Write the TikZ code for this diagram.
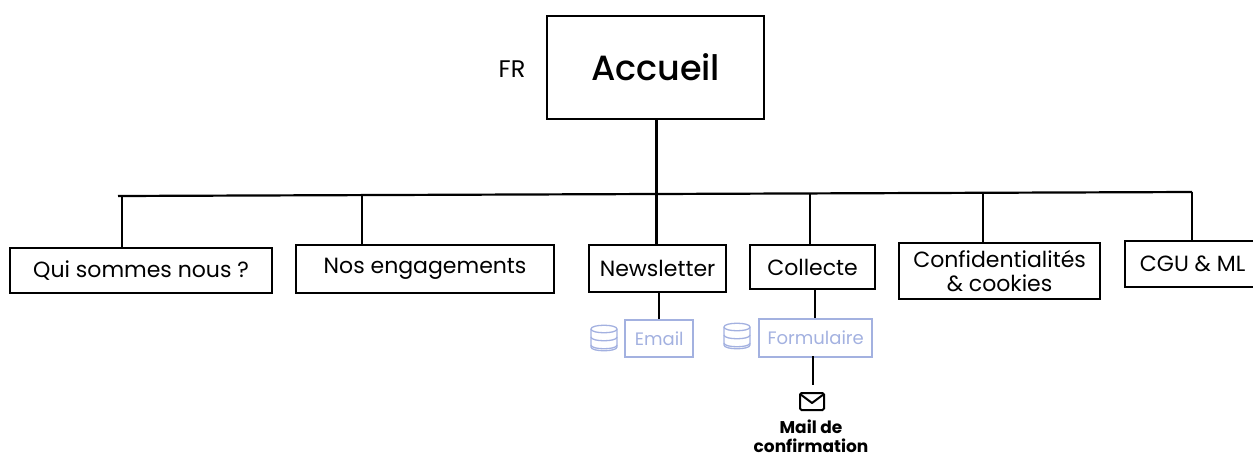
\documentclass[tikz,border=0pt]{standalone}
\usepackage{fontspec}
\setmainfont{Poppins}
\definecolor{peri}{HTML}{A3B1E0}
\tikzset{
  x=1pt,y=-1pt,
  pagebox/.style={draw=black,line width=2.2pt,inner sep=0pt,align=center,font=\fontsize{22}{23}\selectfont,anchor=north west},
  subbox/.style={draw=peri,line width=2.4pt,inner sep=0pt,align=center,text=peri,font=\fontsize{18}{20}\selectfont,anchor=north west},
  link/.style={draw=black,line width=2.2pt},
  dbicon/.pic={
    \draw[peri,line width=1.3pt] (0,4) .. controls (0,-1) and (26,-1) .. (26,4) -- (26,22) .. controls (26,27) and (0,27) .. (0,22) -- cycle;
    \draw[peri,line width=1.3pt] (0,4) .. controls (0,9) and (26,9) .. (26,4);
    \draw[peri,line width=1.3pt] (0,12) .. controls (0,17) and (26,17) .. (26,12);
    \draw[peri,line width=1.3pt] (0,20) .. controls (0,25) and (26,25) .. (26,20);
  },
}
\begin{document}
\begin{tikzpicture}
\useasboundingbox (0,0) rectangle (1253,453);
\node[pagebox,minimum width=217pt,minimum height=103pt,font=\fontsize{35}{36}\selectfont\bfseries\mdseries] (accueil) at (546,15) {\fontspec{Poppins Medium}Accueil};
\node[font=\fontsize{24}{26}\selectfont] (fr) at (512,69) {FR};
\node[pagebox,minimum width=262pt,minimum height=45pt] (qui) at (9,247) {Qui sommes nous ?};
\node[pagebox,minimum width=258pt,minimum height=48pt] (nos) at (295,244) {Nos engagements};
\node[pagebox,minimum width=137pt,minimum height=47pt] (news) at (588,244) {Newsletter};
\node[pagebox,minimum width=125pt,minimum height=44pt] (coll) at (749,244) {Collecte};
\node[pagebox,minimum width=201pt,minimum height=56pt,font=\fontsize{22}{24}\selectfont] (conf) at (898,242) {Confidentialités\\\& cookies};
\node[pagebox,minimum width=135pt,minimum height=46pt,anchor=north west] (cgu) at (1124,240) {CGU \& ML};
\node[subbox,minimum width=68pt,minimum height=37pt] (email) at (624,319) {Email};
\node[subbox,minimum width=113pt,minimum height=38pt] (form) at (758,318) {Formulaire};
\node[font=\fontsize{17}{19}\selectfont\bfseries,align=center,inner sep=0pt] (mail) at (811,436) {Mail de\\confirmation};

\coordinate (tl) at (118,196);
\coordinate (tr) at (1192,192);
\coordinate (t1) at (122,196);
\coordinate (t2) at (362,195.5);
\coordinate (t3) at (656.5,194);
\coordinate (t4) at (810,193.5);
\coordinate (t5) at (983,193);
\draw[link] (tl) -- (tr);
\draw[link] (accueil.south -| t3) -- (t3);
\draw[link] (t1) -- (t1 |- qui.north);
\draw[link] (t2) -- (t2 |- nos.north);
\draw[link] (t3) -- (t3 |- news.north);
\draw[link] (t4) -- (t4 |- coll.north);
\draw[link] (t5) -- (t5 |- conf.north);
\draw[link] (tr) -- (tr |- cgu.north);
\coordinate (n1) at (659,291);
\coordinate (c1) at (815,288);
\coordinate (f1) at (813,356);
\coordinate (env) at (813,385);
\draw[link] (n1) -- (n1 |- email.north);
\draw[link] (c1) -- (c1 |- form.north);
\draw[link] (f1) -- (env);
\pic at (591,325) {dbicon};
\pic at (724,323) {dbicon};
\draw[black,line width=2pt,rounded corners=1.5pt] (800,393) rectangle (824,410);
\draw[black,line width=2pt,line join=round] (800,394) -- (812,403) -- (824,394);
\end{tikzpicture}
\end{document}
